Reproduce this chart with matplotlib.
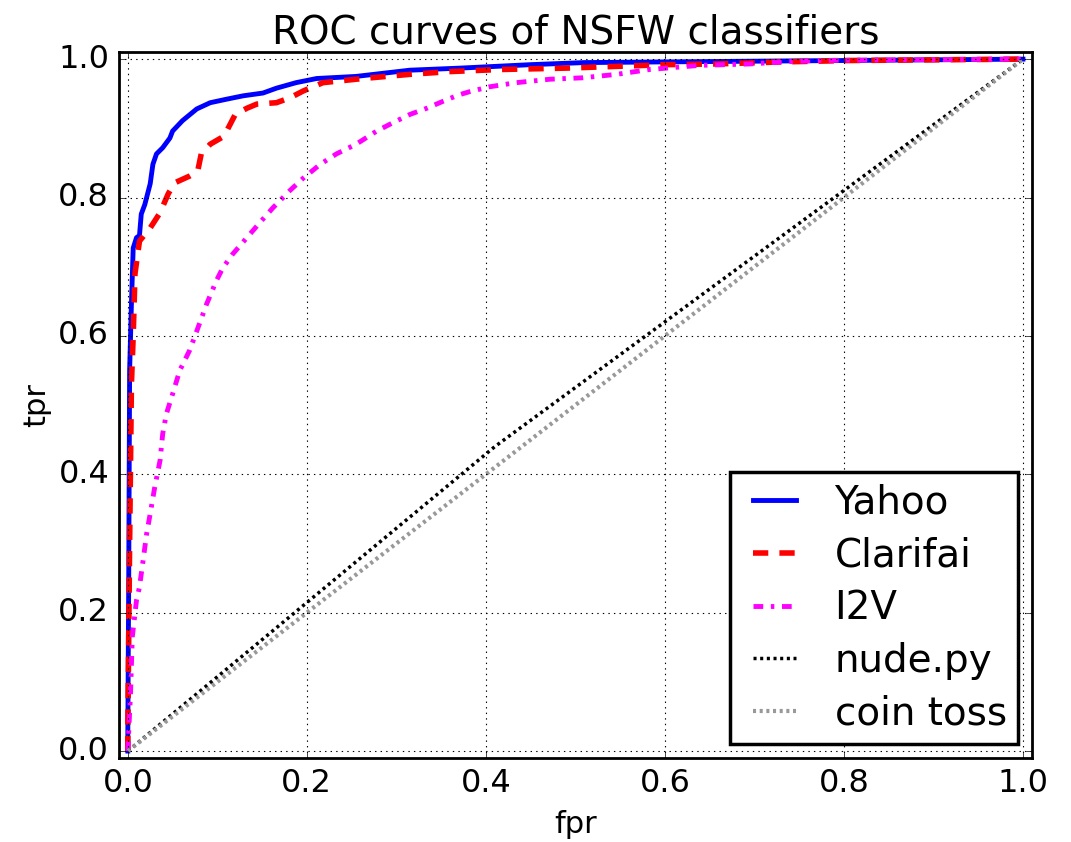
import matplotlib
matplotlib.use("Agg")
import matplotlib.pyplot as plt

# ROC points
yahoo_fpr = [0.0, 0.0, 0.001, 0.002, 0.004, 0.006, 0.0097, 0.013, 0.015, 0.019, 0.025, 0.028,
             0.032, 0.039, 0.047, 0.05, 0.061, 0.077, 0.092, 0.11, 0.129, 0.151, 0.166, 0.188,
             0.211, 0.255, 0.315, 0.371, 0.45, 0.51, 0.6, 0.7, 0.8, 0.9, 1.0]
yahoo_tpr = [0.0, 0.03, 0.25, 0.55, 0.646, 0.727, 0.742, 0.745, 0.776, 0.79, 0.82, 0.848,
             0.863, 0.872, 0.886, 0.896, 0.911, 0.928, 0.937, 0.942, 0.947, 0.951, 0.958, 0.966,
             0.972, 0.975, 0.984, 0.987, 0.992, 0.995, 0.996, 0.997, 0.998, 0.999, 1.0]

clarifai_fpr = [0.0, 0.0, 0.002, 0.004, 0.006, 0.008, 0.013, 0.025, 0.036, 0.045, 0.052, 0.069,
                0.078, 0.082, 0.092, 0.108, 0.112, 0.12, 0.133, 0.144, 0.166, 0.181, 0.196,
                0.218, 0.263, 0.315, 0.36, 0.416, 0.49, 0.557, 0.6, 0.657, 0.732, 0.807, 0.9, 1.0]
clarifai_tpr = [0.0, 0.03, 0.3, 0.53, 0.6, 0.69, 0.737, 0.756, 0.778, 0.805, 0.821, 0.831,
                0.838, 0.863, 0.877, 0.889, 0.9, 0.92, 0.929, 0.935, 0.937, 0.944, 0.954,
                0.966, 0.972, 0.978, 0.982, 0.985, 0.987, 0.99, 0.992, 0.993, 0.996, 0.998, 0.999, 1.0]

i2v_fpr = [0.0, 0.003, 0.005, 0.0097, 0.013, 0.017, 0.021, 0.025, 0.03, 0.036, 0.039, 0.043,
           0.05, 0.058, 0.069, 0.077, 0.088, 0.099, 0.106, 0.117, 0.133, 0.147, 0.162, 0.181,
           0.196, 0.215, 0.233, 0.255, 0.278, 0.296, 0.315, 0.334, 0.352, 0.369, 0.382, 0.404,
           0.434, 0.472, 0.508, 0.546, 0.583, 0.639, 0.695, 0.732, 0.77, 0.85, 1.0]
i2v_tpr = [0.0, 0.083, 0.165, 0.218, 0.237, 0.275, 0.314, 0.343, 0.381, 0.42, 0.459, 0.487,
           0.516, 0.55, 0.579, 0.607, 0.646, 0.68, 0.698, 0.718, 0.742, 0.763, 0.785, 0.81,
           0.828, 0.848, 0.863, 0.877, 0.896, 0.908, 0.92, 0.929, 0.939, 0.948, 0.953, 0.96,
           0.966, 0.971, 0.973, 0.978, 0.985, 0.991, 0.993, 0.996, 0.998, 0.999, 1.0]

nude_fpr = [0.0, 0.41, 1.0]
nude_tpr = [0.0, 0.44, 1.0]

coin_fpr = [0.0, 1.0]
coin_tpr = [0.0, 1.0]

plt.style.use("classic")
plt.rcParams["font.family"] = ["DejaVu Sans"]

fig = plt.figure(figsize=(10.71, 8.42), dpi=100, facecolor="white")
ax = fig.add_axes([0.111, 0.0998, 0.8525, 0.8382])

ax.plot(yahoo_fpr, yahoo_tpr, color="blue", lw=3.5, label="Yahoo")
ax.plot(clarifai_fpr, clarifai_tpr, color="red", lw=4, dashes=(11, 8), label="Clarifai")
ax.plot(i2v_fpr, i2v_tpr, color="magenta", lw=3.5, dashes=(7, 5.5, 2.5, 5.5), label="I2V")
ax.plot(nude_fpr, nude_tpr, color="black", lw=2.5, dashes=(2.2, 2.6), label="nude.py")
ax.plot(coin_fpr, coin_tpr, color="0.6", lw=3, dashes=(2.2, 2.6), label="coin toss")

ax.set_xlim(-0.01, 1.01)
ax.set_ylim(-0.01, 1.01)
ax.set_xticks([0.0, 0.2, 0.4, 0.6, 0.8, 1.0])
ax.set_yticks([0.0, 0.2, 0.4, 0.6, 0.8, 1.0])
ax.tick_params(labelsize=23, pad=7, direction="in", top=True, right=True)
for s in ax.spines.values():
    s.set_linewidth(2)
ax.grid(True, color="black", linestyle=":", lw=0.8)

ax.set_title("ROC curves of NSFW classifiers", fontsize=28, pad=6)
ax.set_xlabel("fpr", fontsize=22, labelpad=8)
ax.set_ylabel("tpr", fontsize=22)

leg = ax.legend(loc="lower right", fontsize=28, handlelength=1.7, handletextpad=0.7,
                labelspacing=0.38, borderpad=0.3, borderaxespad=0.35, fancybox=False)
leg.get_frame().set_linewidth(2.5)
leg.get_frame().set_edgecolor("black")

fig.savefig("out.png", dpi=100, facecolor="white")
